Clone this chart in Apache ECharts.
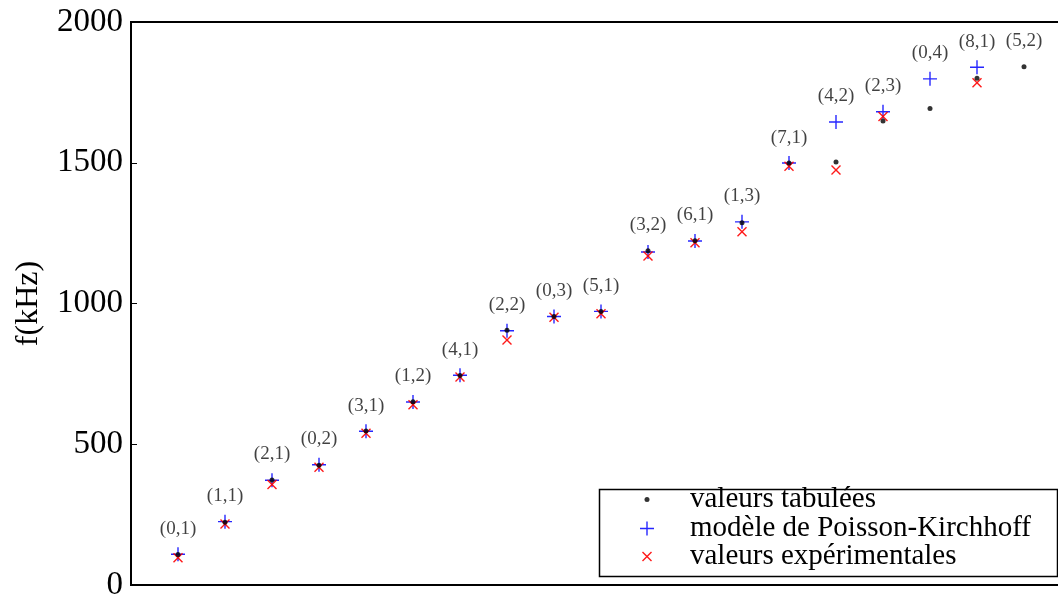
<!DOCTYPE html>
<html>
<head>
<meta charset="utf-8">
<script src="https://cdn.jsdelivr.net/npm/echarts@6/dist/echarts.min.js"></script>
<style>
html,body{margin:0;padding:0;background:#fff;}
#chart{width:1058px;height:597px;}
</style>
</head>
<body>
<div id="chart"></div>
<script>
// Mode labels (m,n)
var modes = ['(0,1)','(1,1)','(2,1)','(0,2)','(3,1)','(1,2)','(4,1)','(2,2)','(0,3)','(5,1)','(3,2)','(6,1)','(1,3)','(7,1)','(4,2)','(2,3)','(0,4)','(8,1)','(5,2)'];
// valeurs tabulées (kHz)
var tabulees = [108, 223, 373, 425, 547, 651, 744, 905, 954, 972, 1187, 1223, 1287, 1499, 1503, 1648, 1693, 1800, 1841];
// modèle de Poisson-Kirchhoff (kHz)
var modele = [109, 225, 372, 427, 546, 650, 745, 903, 954, 972, 1183, 1222, 1290, 1499, 1645, 1681, 1798, 1839, null];
// valeurs expérimentales (kHz)
var experimentales = [97, 217, 357, 418, 539, 640, 739, 870, 951, 964, 1169, 1216, 1255, 1488, 1474, 1664, null, 1784, null];
var yTicks = [0, 500, 1000, 1500, 2000];

function pts(arr){
  var out = [];
  for (var i = 0; i < arr.length; i++) { if (arr[i] !== null) out.push([i + 1, arr[i]]); }
  return out;
}
var labelPts = modes.map(function(m, i){
  var a = tabulees[i], b = modele[i];
  var top = (b === null) ? a : Math.max(a, b);
  return {value: [i + 1, top], name: m};
});

var serif = '"Liberation Serif", "DejaVu Serif", serif';
var plusPath = 'path://M-1,-10h2v20h-2zM-10,-1h20v2h-20z';
var crossPath = 'path://M-7.07,-5.66L-5.66,-7.07L7.07,5.66L5.66,7.07ZM5.66,-7.07L7.07,-5.66L-5.66,7.07L-7.07,5.66Z';
var legendText = {fontFamily: serif, fontSize: 29, color: '#000'};

var chart = echarts.init(document.getElementById('chart'), null, {renderer: 'canvas'});
chart.setOption({
  animation: false,
  backgroundColor: '#fff',
  grid: {left: 131, top: 22, width: 940, height: 563, outerBoundsMode: 'none', containLabel: false,
         show: true, borderColor: '#000', borderWidth: 2, backgroundColor: 'transparent'},
  xAxis: {type: 'value', min: 0, max: 20, axisLine: {show: false}, axisTick: {show: false}, axisLabel: {show: false}, splitLine: {show: false}},
  yAxis: {
    type: 'value', min: yTicks[0], max: yTicks[yTicks.length - 1], interval: 500,
    name: 'f(kHz)', nameLocation: 'middle', nameGap: 86,
    nameTextStyle: {fontFamily: serif, fontSize: 32, color: '#000'},
    axisLine: {show: true, lineStyle: {color: '#000', width: 2}},
    axisTick: {show: true, inside: true, length: 6, lineStyle: {color: '#000', width: 1}},
    axisLabel: {fontFamily: serif, fontSize: 33, color: '#000', margin: 8, formatter: function(v){ return String(v); }},
    splitLine: {show: false}
  },
  legend: [
    {data: ['valeurs tabulées'], orient: 'vertical', left: 644.5, top: 485, itemWidth: 5, itemHeight: 5, padding: 0,
     textStyle: Object.assign({padding: [0, 0, 0, 35.5]}, legendText)},
    {data: ['modèle de Poisson-Kirchhoff'], orient: 'vertical', left: 640, top: 514, itemWidth: 14, itemHeight: 14, padding: 0,
     textStyle: Object.assign({padding: [0, 0, 0, 31]}, legendText)},
    {data: ['valeurs expérimentales'], orient: 'vertical', left: 642, top: 542, itemWidth: 10, itemHeight: 10, padding: 0,
     textStyle: Object.assign({padding: [0, 0, 0, 33]}, legendText)}
  ],
  graphic: [{type: 'rect', left: 597, top: 487, shape: {width: 458, height: 87}, style: {fill: 'none', stroke: '#000', lineWidth: 1.5}, z: 5}],
  series: [
    {name: 'valeurs tabulées', type: 'scatter', data: pts(tabulees), symbol: 'circle', symbolSize: 5,
     itemStyle: {color: '#000'}, z: 4},
    {name: 'modèle de Poisson-Kirchhoff', type: 'scatter', data: pts(modele), symbol: plusPath, symbolSize: 14, symbolKeepAspect: true,
     itemStyle: {color: '#0000ff', opacity: 0.85}, z: 3},
    {name: 'valeurs expérimentales', type: 'scatter', data: pts(experimentales), symbol: crossPath, symbolSize: 10, symbolKeepAspect: true,
     itemStyle: {color: '#ff0000', opacity: 0.9}, z: 3},
    {name: 'labels', type: 'scatter', data: labelPts, symbolSize: 0, silent: true,
     label: {show: true, position: 'top', distance: 16, formatter: function(p){ return p.name; },
             fontFamily: serif, fontSize: 19, color: '#111'}}
  ]
});
</script>
</body>
</html>
